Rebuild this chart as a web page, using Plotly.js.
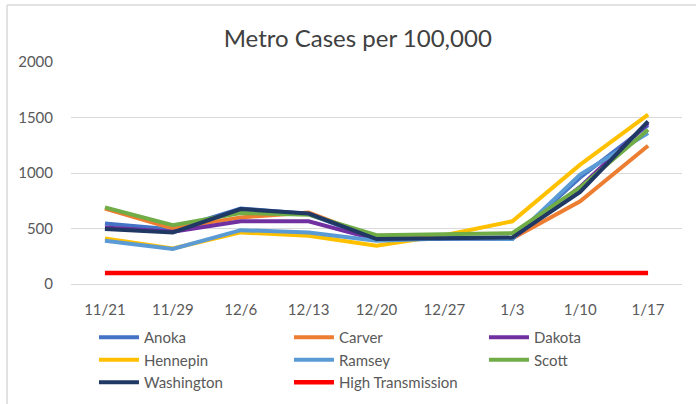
<!DOCTYPE html>
<html>
<head>
<meta charset="utf-8">
<script src="https://cdn.plot.ly/plotly-3.0.1.min.js"></script>
<style>
  html, body { margin: 0; padding: 0; background: #ffffff; }
  #chart { width: 696px; height: 404px; }
</style>
</head>
<body>
<div id="chart"></div>
<script>
const dates = ["11/21", "11/29", "12/6", "12/13", "12/20", "12/27", "1/3", "1/10", "1/17"];

const anoka      = [545, 490, 680, 630, 400, 410, 405, 960, 1430];
const carver     = [680, 500, 600, 645, 410, 415, 410, 745, 1245];
const dakota     = [510, 470, 565, 565, 400, 410, 410, 875, 1450];
const hennepin   = [410, 320, 465, 435, 345, 440, 565, 1075, 1525];
const ramsey     = [390, 315, 485, 465, 390, 410, 405, 985, 1360];
const scott      = [690, 530, 640, 625, 440, 450, 458, 870, 1390];
const washington = [495, 465, 675, 635, 405, 410, 418, 830, 1465];
const highTransmission = [100, 100, 100, 100, 100, 100, 100, 100, 100];

const seriesNames = ["Anoka", "Carver", "Dakota", "Hennepin", "Ramsey", "Scott", "Washington", "High Transmission"];
const seriesValues = [anoka, carver, dakota, hennepin, ramsey, scott, washington, highTransmission];
const seriesColors = ["#4472C4", "#ED7D31", "#7030A0", "#FFC000", "#5B9BD5", "#70AD47", "#203864", "#FF0000"];

const FONT = "Lato, 'Open Sans', sans-serif";

const traces = seriesNames.map((name, i) => ({
  type: "scatter",
  mode: "lines",
  name: name,
  x: dates,
  y: seriesValues[i],
  line: { color: seriesColors[i], width: i === 7 ? 4.5 : 4 },
  hoverinfo: "skip"
}));

const layout = {
  width: 696,
  height: 404,
  margin: { l: 71, r: 14, t: 62, b: 120, pad: 0 },
  paper_bgcolor: "#ffffff",
  plot_bgcolor: "#ffffff",
  font: { family: FONT, size: 15, color: "#595959" },
  title: {
    text: "Metro Cases per 100,000",
    font: { family: FONT, size: 24, color: "#404040" },
    xref: "container", x: 0.514, xanchor: "center",
    yref: "container", y: 0.9035, yanchor: "middle"
  },
  xaxis: {
    type: "category",
    range: [-0.5, 8.5],
    showgrid: false,
    showline: false,
    zeroline: false,
    ticks: "outside",
    ticklen: 12,
    tickcolor: "rgba(0,0,0,0)",
    tickfont: { family: FONT, size: 15, color: "#595959" },
    fixedrange: true
  },
  yaxis: {
    range: [0, 2000],
    dtick: 500,
    showgrid: true,
    gridcolor: "#d9d9d9",
    gridwidth: 1,
    zeroline: true,
    zerolinecolor: "#d9d9d9",
    zerolinewidth: 1,
    showline: false,
    ticks: "outside",
    ticklen: 14,
    tickcolor: "rgba(0,0,0,0)",
    tickfont: { family: FONT, size: 15, color: "#595959" },
    fixedrange: true
  },
  showlegend: true,
  legend: {
    orientation: "h",
    xref: "paper", x: 0.0376, xanchor: "left",
    yref: "container", y: 0.2054, yanchor: "top",
    font: { family: FONT, size: 15, color: "#595959" },
    entrywidth: 140,
    entrywidthmode: "pixels",
    itemwidth: 40,
    traceorder: "normal",
    bgcolor: "rgba(0,0,0,0)",
    borderwidth: 0
  },
  shapes: [
    { type: "line", xref: "paper", yref: "paper", x0: -0.1047, x1: -0.1047, y0: -0.6, y1: 1.2568,
      line: { color: "#d9d9d9", width: 1.5 } },
    { type: "line", xref: "paper", yref: "paper", x0: -0.1047, x1: 1.1, y0: 1.2568, y1: 1.2568,
      line: { color: "#d9d9d9", width: 1.5 } }
  ]
};

Plotly.newPlot("chart", traces, layout, { displayModeBar: false, staticPlot: true });
</script>
</body>
</html>
